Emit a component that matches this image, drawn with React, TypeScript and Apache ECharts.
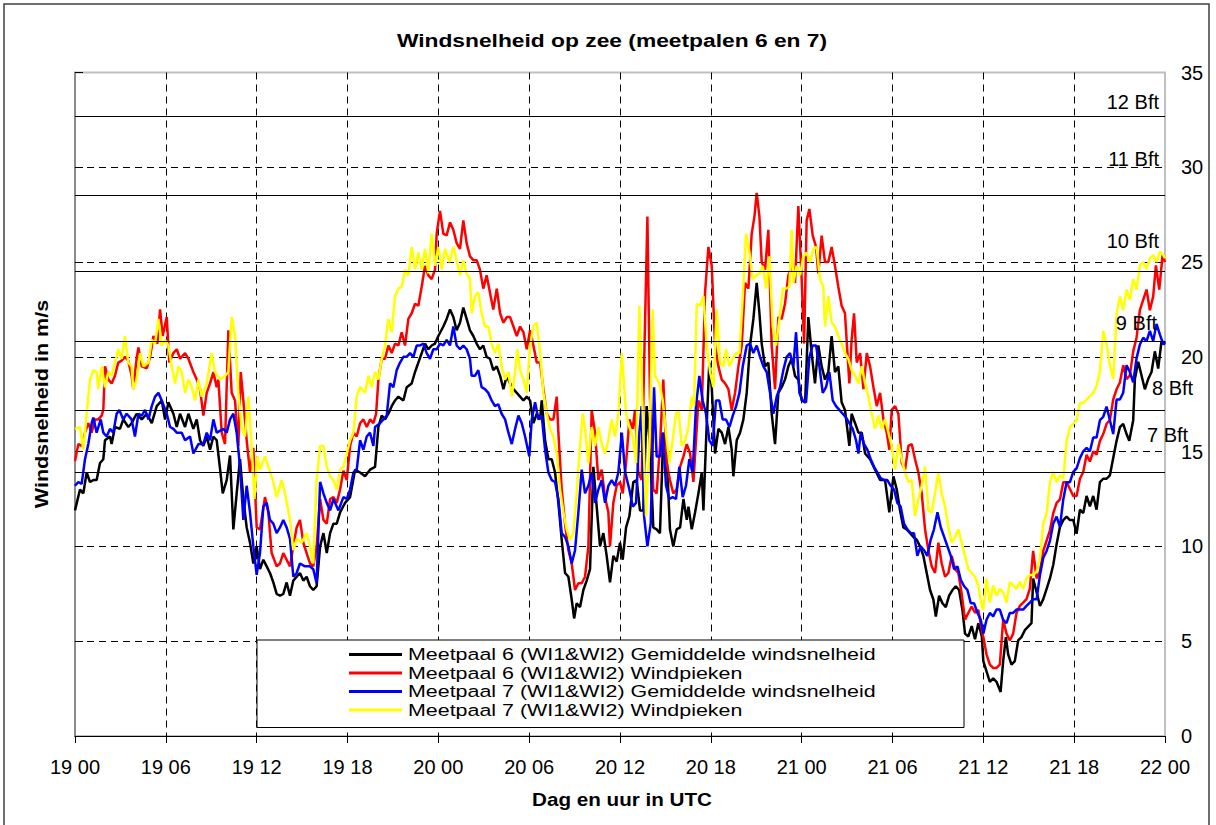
import React, { useEffect, useRef } from "react";
import * as echarts from "echarts";

const FONT = '"Liberation Sans", Arial, Helvetica, sans-serif';

const tickLabels = ["19 00", "19 06", "19 12", "19 18", "20 00", "20 06", "20 12", "20 18", "21 00", "21 06", "21 12", "21 18", "22 00"];
const bftLevels = [13.9, 17.2, 20.8, 24.5, 28.5, 32.7];
const bftNames = ["7 Bft", "8 Bft", "9 Bft", "10 Bft", "11 Bft", "12 Bft"];
const seriesNames = [
  "Meetpaal 6 (WI1&WI2) Gemiddelde windsnelheid",
  "Meetpaal 6 (WI1&WI2) Windpieken",
  "Meetpaal 7 (WI1&WI2) Gemiddelde windsnelheid",
  "Meetpaal 7 (WI1&WI2) Windpieken",
];

// [hours since 19 00 UTC, m/s]
const m6Avg: [number, number][] = [[0,11.9],[0.33,13.0],[0.55,12.8],[0.77,13.9],[0.99,13.4],[1.21,13.5],[1.43,13.5],[1.65,14.4],[1.87,14.6],[1.98,15.6],[2.31,15.8],[2.42,15.4],[2.64,16.3],[2.97,16.2],[3.19,16.7],[3.52,16.3],[3.74,16.5],[4.07,17.0],[4.41,16.7],[4.74,17.0],[5.07,16.5],[5.40,17.4],[5.73,17.7],[5.95,16.7],[6.17,17.6],[6.50,17.0],[6.72,16.3],[6.94,17.0],[7.27,16.3],[7.49,17.0],[7.82,16.2],[8.04,16.7],[8.26,15.6],[8.48,15.3],[8.70,15.8],[8.92,15.1],[9.14,15.8],[9.36,15.6],[9.58,14.1],[9.76,12.8],[10.02,13.5],[10.24,14.8],[10.46,10.9],[10.68,12.8],[10.90,14.6],[11.12,12.5],[11.34,11.0],[11.56,10.2],[11.78,9.1],[12.00,10.0],[12.22,8.8],[12.44,9.3],[12.66,8.95],[12.88,8.6],[13.10,8.1],[13.32,7.5],[13.54,7.4],[13.76,7.5],[13.98,8.1],[14.20,7.4],[14.42,8.2],[14.64,8.4],[14.86,8.6],[15.08,8.2],[15.30,8.4],[15.52,7.9],[15.74,7.7],[15.96,7.9],[16.19,10.0],[16.41,10.7],[16.63,9.65],[16.85,10.7],[17.07,11.2],[17.29,11.2],[17.51,11.8],[17.84,12.3],[18.17,12.6],[18.50,14.05],[18.83,13.9],[19.16,13.7],[19.49,14.05],[19.82,14.2],[20.04,16.3],[20.26,16.9],[20.48,16.7],[20.70,17.0],[20.92,17.4],[21.14,17.7],[21.36,17.9],[21.69,17.7],[21.91,18.4],[22.24,18.6],[22.46,19.2],[22.68,19.7],[22.90,20.2],[23.12,20.7],[23.34,20.4],[23.56,20.6],[23.78,20.7],[24.00,21.1],[24.33,21.6],[24.55,22.0],[24.77,22.5],[24.99,22.1],[25.21,21.4],[25.43,21.8],[25.65,22.6],[25.87,22.0],[26.09,21.4],[26.31,21.1],[26.53,20.7],[26.75,20.4],[26.97,20.6],[27.19,20.0],[27.41,19.9],[27.63,19.3],[27.86,19.5],[28.08,19.0],[28.30,18.3],[28.52,19.0],[28.74,18.6],[28.96,18.3],[29.18,18.1],[29.40,17.9],[29.62,17.7],[29.84,17.9],[30.06,17.7],[30.28,16.5],[30.50,17.0],[30.72,16.7],[30.83,17.7],[31.05,15.6],[31.27,14.6],[31.49,14.6],[31.71,13.9],[31.93,12.3],[32.15,10.35],[32.37,8.6],[32.59,8.4],[32.81,7.2],[32.97,6.2],[33.14,7.0],[33.36,6.8],[33.58,7.7],[33.80,8.2],[34.02,8.8],[34.24,14.2],[34.46,12.1],[34.68,10.0],[34.90,10.7],[35.12,9.5],[35.34,8.1],[35.56,9.5],[35.78,9.2],[36.00,10.2],[36.18,9.3],[36.40,11.0],[36.62,11.6],[36.88,13.4],[37.10,13.5],[37.32,11.9],[37.54,11.9],[37.76,17.4],[37.98,15.3],[38.20,11.0],[38.42,10.9],[38.64,10.7],[38.86,16.0],[39.08,14.9],[39.30,10.9],[39.52,10.0],[39.74,10.9],[39.97,11.0],[40.19,12.5],[40.41,11.4],[40.52,12.1],[40.74,10.9],[40.96,11.8],[41.18,12.8],[41.40,13.9],[41.51,11.9],[41.73,16.5],[41.90,19.7],[42.06,18.4],[42.28,14.9],[42.50,16.2],[42.72,16.0],[42.94,15.4],[43.16,16.3],[43.38,15.1],[43.49,13.7],[43.71,15.6],[43.93,16.0],[44.15,16.7],[44.37,18.1],[44.59,20.6],[44.81,22.0],[45.03,23.9],[45.21,22.3],[45.36,20.7],[45.58,19.5],[45.80,19.7],[46.02,17.0],[46.24,15.4],[46.46,18.1],[46.68,18.4],[46.90,18.8],[47.12,19.5],[47.34,19.9],[47.56,19.0],[47.78,18.8],[48.00,17.7],[48.23,17.6],[48.44,22.1],[48.66,20.2],[48.88,18.6],[49.10,20.6],[49.32,19.5],[49.54,18.8],[49.76,19.2],[49.98,21.1],[50.20,19.2],[50.42,19.5],[50.64,17.6],[50.86,17.2],[51.15,15.3],[51.30,17.0],[51.53,16.5],[51.75,16.0],[51.97,16.0],[52.19,14.9],[52.52,14.6],[52.85,14.05],[53.18,13.5],[53.51,13.5],[53.79,11.8],[54.06,13.7],[54.28,13.0],[54.50,11.9],[54.72,11.0],[54.94,10.9],[55.16,10.7],[55.38,10.5],[55.60,10.35],[55.82,10.0],[56.04,9.5],[56.26,8.6],[56.48,7.7],[56.70,7.2],[56.86,6.3],[57.08,7.4],[57.30,7.0],[57.52,6.8],[57.74,7.4],[57.96,7.7],[58.18,7.9],[58.40,7.7],[58.62,6.65],[58.79,5.4],[59.01,5.25],[59.23,5.8],[59.45,5.1],[59.67,5.95],[59.90,5.25],[60.00,3.95],[60.21,3.41],[60.43,2.86],[60.65,3.04],[60.87,2.86],[61.14,2.32],[61.31,3.95],[61.49,5.22],[61.64,4.31],[61.86,3.77],[62.08,3.95],[62.30,5.04],[62.52,5.22],[62.74,5.58],[62.96,5.77],[63.18,5.95],[63.29,8.31],[63.52,7.58],[63.74,6.86],[63.96,7.22],[64.18,7.76],[64.40,8.31],[64.62,9.03],[64.84,10.12],[65.06,11.03],[65.28,11.39],[65.50,11.57],[65.72,11.39],[65.94,11.39],[66.16,10.67],[66.38,11.94],[66.60,11.76],[66.82,12.66],[67.04,12.12],[67.26,12.66],[67.48,11.94],[67.70,13.39],[67.92,13.57],[68.14,13.57],[68.36,13.75],[68.58,14.66],[68.80,15.57],[69.02,16.29],[69.24,16.47],[69.46,15.93],[69.64,15.57],[69.90,16.66],[70.01,18.83],[70.23,19.74],[70.45,19.02],[70.67,18.29],[70.89,18.83],[71.11,19.2],[71.33,20.29],[71.55,19.38],[71.77,20.83],[72.00,20.65]];

const m6Peak: [number, number][] = [[0,14.5],[0.22,15.4],[0.44,15.3],[0.66,16.0],[0.88,16.5],[1.10,16.0],[1.32,16.7],[1.54,16.7],[1.76,16.9],[1.87,17.2],[1.98,19.5],[2.20,18.8],[2.42,18.6],[2.64,19.0],[2.86,19.7],[3.08,19.8],[3.30,20.0],[3.52,19.8],[3.74,19.0],[3.85,18.3],[4.07,19.9],[4.19,20.5],[4.41,19.5],[4.74,19.4],[4.96,20.0],[5.18,21.1],[5.44,20.7],[5.62,22.5],[5.79,21.1],[6.06,22.1],[6.23,19.7],[6.50,20.2],[6.72,20.4],[6.94,19.9],[7.27,20.2],[7.49,19.9],[7.82,19.2],[8.04,18.8],[8.26,18.3],[8.48,16.9],[8.70,18.1],[8.92,18.6],[9.14,19.2],[9.36,18.4],[9.47,18.8],[9.69,16.0],[9.91,15.4],[10.13,21.4],[10.35,18.1],[10.57,17.7],[10.79,15.3],[10.95,19.2],[11.12,17.7],[11.34,15.6],[11.56,13.9],[11.78,15.2],[12.00,11.0],[12.22,10.9],[12.55,12.6],[12.77,11.8],[12.99,9.65],[13.32,8.95],[13.54,9.1],[13.76,9.65],[13.98,9.3],[14.20,8.95],[14.42,10.0],[14.64,11.0],[14.86,11.4],[15.08,10.2],[15.30,9.65],[15.52,9.1],[15.74,8.95],[15.96,10.0],[16.19,12.5],[16.41,11.4],[16.63,11.2],[16.85,12.5],[17.07,12.6],[17.29,12.3],[17.51,13.0],[17.73,14.0],[17.95,13.5],[18.17,15.3],[18.39,16.0],[18.61,15.8],[18.83,16.5],[19.05,16.7],[19.27,16.3],[19.49,16.7],[19.71,16.5],[19.89,17.0],[20.04,18.8],[20.26,19.9],[20.48,19.9],[20.70,20.6],[20.92,20.2],[21.14,20.7],[21.36,20.6],[21.58,21.3],[21.80,20.6],[22.02,22.0],[22.24,22.3],[22.46,22.8],[22.68,22.7],[22.90,23.7],[23.12,24.8],[23.34,24.3],[23.56,24.1],[23.78,24.6],[23.89,26.5],[24.11,27.7],[24.33,26.5],[24.55,26.4],[24.77,27.1],[24.99,26.7],[25.21,26.0],[25.43,25.7],[25.65,27.2],[25.87,26.0],[26.09,25.3],[26.31,25.1],[26.53,25.1],[26.75,24.6],[26.97,23.6],[27.19,24.3],[27.41,23.4],[27.63,22.5],[27.86,23.6],[28.08,22.3],[28.30,21.8],[28.52,22.1],[28.74,22.1],[28.96,21.6],[29.18,21.1],[29.40,21.6],[29.62,21.3],[29.84,20.4],[30.06,21.4],[30.28,20.6],[30.50,19.7],[30.72,19.7],[30.94,18.3],[31.16,17.0],[31.38,16.7],[31.60,16.7],[31.82,17.9],[31.93,16.0],[32.15,13.0],[32.37,11.2],[32.59,9.8],[32.81,9.1],[33.03,7.7],[33.25,8.06],[33.47,8.06],[33.69,8.4],[33.91,10.0],[34.13,17.2],[34.35,16.0],[34.57,13.5],[34.79,14.05],[35.01,12.6],[35.23,11.8],[35.34,10.0],[35.56,12.3],[35.78,13.2],[36.00,13.4],[36.18,12.8],[36.40,14.4],[36.62,16.7],[36.84,16.2],[36.99,17.2],[37.21,13.9],[37.43,13.5],[37.59,19.5],[37.81,27.4],[37.98,17.9],[38.20,13.0],[38.42,12.8],[38.64,15.3],[38.86,18.8],[39.08,14.4],[39.30,13.5],[39.52,12.8],[39.74,13.0],[39.97,14.2],[40.19,14.75],[40.41,15.4],[40.63,14.9],[40.85,13.4],[41.02,15.6],[41.18,17.7],[41.40,17.2],[41.62,23.4],[41.84,25.8],[42.06,24.8],[42.28,20.6],[42.50,19.5],[42.72,18.8],[42.94,18.6],[43.16,18.3],[43.38,17.2],[43.60,18.1],[43.82,19.5],[44.04,20.6],[44.26,23.9],[44.48,23.6],[44.70,26.5],[44.88,27.4],[45.03,28.65],[45.21,27.4],[45.36,25.0],[45.58,24.6],[45.80,26.7],[46.02,20.6],[46.24,18.3],[46.46,22.1],[46.68,22.0],[46.90,22.8],[47.12,24.3],[47.34,24.8],[47.56,23.9],[47.78,27.95],[48.00,24.1],[48.16,20.7],[48.33,27.2],[48.51,27.8],[48.73,26.4],[48.95,25.8],[49.10,24.4],[49.32,26.4],[49.54,25.0],[49.76,25.0],[49.98,25.8],[50.20,24.8],[50.42,23.7],[50.64,22.7],[50.86,22.3],[51.15,18.6],[51.30,20.9],[51.46,22.3],[51.64,19.7],[51.86,20.2],[52.08,18.3],[52.30,20.2],[52.52,19.5],[52.74,18.4],[52.96,17.4],[53.18,18.1],[53.40,16.7],[53.62,16.0],[53.79,15.1],[53.95,17.2],[54.17,17.4],[54.39,17.0],[54.61,14.4],[54.83,14.05],[55.05,15.3],[55.27,15.4],[55.49,14.6],[55.71,13.9],[55.93,12.8],[56.15,10.9],[56.37,9.8],[56.59,8.95],[56.81,8.6],[57.03,10.2],[57.25,9.1],[57.47,8.4],[57.69,8.6],[57.91,9.5],[58.13,8.8],[58.35,8.6],[58.57,7.5],[58.79,6.13],[59.01,6.5],[59.23,6.83],[59.45,6.5],[59.67,6.65],[59.89,5.6],[60.00,5.22],[60.21,4.31],[60.43,3.77],[60.65,3.59],[60.87,3.59],[61.09,3.77],[61.31,6.13],[61.53,5.4],[61.75,5.04],[61.97,5.4],[62.19,6.49],[62.41,6.86],[62.63,7.04],[62.85,7.22],[63.07,7.76],[63.29,9.76],[63.52,8.31],[63.74,8.67],[63.96,9.76],[64.18,10.3],[64.40,10.85],[64.62,11.76],[64.84,12.3],[65.06,12.48],[65.28,13.39],[65.50,13.39],[65.72,13.03],[65.94,12.66],[66.16,12.66],[66.38,13.57],[66.60,13.93],[66.82,14.84],[67.04,14.48],[67.26,15.02],[67.48,14.84],[67.70,15.57],[67.92,15.93],[68.14,16.47],[68.36,16.66],[68.58,17.75],[68.80,18.29],[69.02,18.65],[69.24,19.56],[69.46,18.83],[69.68,19.02],[69.90,20.29],[70.12,21.01],[70.34,22.46],[70.56,23.01],[70.78,23.55],[71.00,22.46],[71.22,23.19],[71.40,24.82],[71.62,23.55],[71.84,25.37],[72.00,25.0]];

const m7Avg: [number, number][] = [[0,13.2],[0.22,13.4],[0.44,13.3],[0.66,14.6],[0.88,15.4],[1.10,16.5],[1.21,16.8],[1.43,16.0],[1.70,16.7],[1.87,16.0],[2.09,15.8],[2.31,16.2],[2.53,16.0],[2.75,17.0],[2.93,17.2],[3.19,16.7],[3.41,17.0],[3.74,16.7],[3.96,15.8],[4.19,17.0],[4.41,16.9],[4.63,17.2],[4.85,16.7],[5.07,17.4],[5.29,17.9],[5.51,18.1],[5.73,17.7],[6.06,17.0],[6.28,16.3],[6.50,16.2],[6.72,16.0],[7.05,16.0],[7.27,15.6],[7.60,15.8],[7.82,14.9],[8.15,15.4],[8.48,15.4],[8.70,16.0],[8.92,15.6],[9.14,16.7],[9.36,16.0],[9.80,16.2],[10.02,16.0],[10.24,16.7],[10.46,17.0],[10.68,16.0],[10.90,14.2],[11.12,11.4],[11.34,13.2],[11.56,11.8],[11.78,10.0],[12.00,8.5],[12.22,9.65],[12.44,12.1],[12.66,12.3],[12.88,11.4],[13.10,11.2],[13.32,10.7],[13.54,11.0],[13.76,11.4],[13.98,11.0],[14.20,10.4],[14.42,8.4],[14.64,8.6],[14.86,9.1],[15.19,8.95],[15.52,8.95],[15.74,8.8],[15.96,8.06],[16.19,13.4],[16.41,12.8],[16.63,12.3],[16.85,11.9],[17.07,12.5],[17.40,11.9],[17.73,12.6],[17.95,12.5],[18.17,13.0],[18.39,13.9],[18.61,14.05],[18.83,15.6],[19.05,15.1],[19.27,15.8],[19.49,16.0],[19.71,15.3],[19.82,16.3],[20.15,16.5],[20.37,16.7],[20.59,16.9],[20.81,18.6],[21.03,18.4],[21.25,19.3],[21.47,19.7],[21.69,20.0],[21.91,20.0],[22.13,20.2],[22.35,20.0],[22.57,20.6],[22.79,20.6],[23.01,20.7],[23.23,20.2],[23.45,19.9],[23.67,20.4],[23.89,20.4],[24.11,20.7],[24.33,20.6],[24.55,20.9],[24.77,20.6],[24.99,21.6],[25.21,20.6],[25.43,20.4],[25.65,20.6],[25.87,20.4],[26.09,19.9],[26.20,19.0],[26.42,19.0],[26.64,19.3],[26.86,18.4],[27.08,18.3],[27.30,18.1],[27.52,17.7],[27.74,17.4],[27.96,17.5],[28.18,17.0],[28.41,16.7],[28.63,16.0],[28.85,15.4],[29.07,16.2],[29.29,16.9],[29.51,16.5],[29.73,15.8],[30.01,14.75],[30.17,16.7],[30.39,17.6],[30.61,16.7],[30.83,16.9],[31.05,15.1],[31.27,13.9],[31.49,13.5],[31.71,13.4],[31.93,12.5],[32.15,10.7],[32.37,10.5],[32.59,10.0],[32.81,9.1],[33.03,9.8],[33.25,11.8],[33.47,14.05],[33.69,12.8],[33.91,13.2],[34.13,13.9],[34.35,12.3],[34.57,13.0],[34.79,13.5],[35.01,12.3],[35.23,13.2],[35.45,13.5],[35.67,13.2],[35.89,13.9],[36.12,16.0],[36.34,13.9],[36.62,13.0],[36.84,12.1],[37.06,12.3],[37.28,16.0],[37.43,17.4],[37.59,11.6],[37.81,10.0],[38.03,11.2],[38.25,18.4],[38.42,14.75],[38.64,14.75],[38.82,16.0],[39.04,13.2],[39.26,12.5],[39.48,12.6],[39.70,12.5],[39.92,14.2],[40.14,12.6],[40.36,13.2],[40.58,14.6],[40.80,13.9],[41.02,17.4],[41.24,19.0],[41.46,17.7],[41.68,17.0],[41.90,15.6],[42.12,15.3],[42.34,17.7],[42.56,17.7],[42.78,16.7],[43.00,16.7],[43.23,16.3],[43.45,16.9],[43.67,17.4],[43.89,18.1],[44.11,19.5],[44.37,20.6],[44.59,20.7],[44.81,20.2],[45.03,20.6],[45.25,20.0],[45.47,19.5],[45.69,19.2],[45.91,18.1],[46.13,17.0],[46.35,17.9],[46.57,18.4],[46.79,19.3],[47.01,20.0],[47.23,20.2],[47.45,19.5],[47.63,21.3],[47.85,18.1],[48.07,17.7],[48.29,17.6],[48.51,20.0],[48.73,20.6],[48.95,20.6],[49.17,19.5],[49.39,18.1],[49.61,18.4],[49.83,19.2],[50.05,17.7],[50.27,17.4],[50.49,17.2],[50.71,17.0],[50.93,16.8],[51.15,16.5],[51.37,16.2],[51.59,15.6],[51.75,14.9],[51.90,16.0],[52.12,15.4],[52.34,15.1],[52.56,14.6],[52.78,14.2],[53.00,13.9],[53.22,13.6],[53.44,13.5],[53.66,13.5],[53.88,13.2],[54.10,13.0],[54.32,12.3],[54.54,12.1],[54.76,11.2],[54.98,10.9],[55.20,10.7],[55.42,10.7],[55.64,9.5],[55.86,10.0],[56.08,9.8],[56.30,9.5],[56.52,10.35],[56.74,10.9],[56.97,11.8],[57.19,11.0],[57.41,10.5],[57.63,10.0],[57.85,9.5],[58.07,8.8],[58.29,8.95],[58.51,8.24],[58.73,7.9],[58.95,7.7],[59.17,7.0],[59.39,7.0],[59.61,6.5],[59.83,6.13],[60.00,5.4],[60.21,6.13],[60.43,6.49],[60.65,6.31],[60.87,6.67],[61.09,6.67],[61.31,6.13],[61.53,5.95],[61.75,6.49],[61.97,6.49],[62.19,6.67],[62.41,6.67],[62.63,6.67],[62.85,6.86],[63.07,7.04],[63.29,7.22],[63.52,7.22],[63.74,8.49],[63.96,9.4],[64.18,9.76],[64.40,10.3],[64.62,11.21],[64.84,11.57],[65.06,11.03],[65.28,12.48],[65.50,13.39],[65.72,13.39],[65.94,13.93],[66.16,14.12],[66.38,14.66],[66.60,15.02],[66.82,15.2],[67.04,15.02],[67.26,15.75],[67.48,15.75],[67.70,16.66],[67.92,16.84],[68.14,17.38],[68.36,16.66],[68.58,15.93],[68.80,17.75],[69.02,17.75],[69.24,18.11],[69.46,19.56],[69.68,19.2],[69.90,18.65],[70.12,19.92],[70.34,20.65],[70.56,21.01],[70.78,20.83],[71.00,21.37],[71.22,20.83],[71.44,21.74],[71.66,21.19],[71.89,20.65],[72.00,20.83]];

const m7Peak: [number, number][] = [[0,16.2],[0.33,16.3],[0.55,15.1],[0.77,17.0],[0.99,18.8],[1.21,19.3],[1.43,19.2],[1.54,18.3],[1.76,19.5],[1.98,18.4],[2.20,19.2],[2.42,19.0],[2.64,19.7],[2.86,20.4],[3.08,19.9],[3.30,21.1],[3.52,19.7],[3.74,19.5],[3.85,18.3],[4.07,18.8],[4.30,20.2],[4.52,19.5],[4.85,19.7],[5.07,20.9],[5.29,20.7],[5.51,22.0],[5.73,20.6],[5.95,20.9],[6.17,20.6],[6.39,19.5],[6.61,18.6],[6.83,19.5],[7.05,19.2],[7.27,18.1],[7.49,18.8],[7.71,18.4],[7.93,17.7],[8.15,18.8],[8.37,17.9],[8.70,18.6],[9.03,20.2],[9.25,19.2],[9.58,18.8],[9.91,19.0],[10.13,19.2],[10.35,22.1],[10.57,21.1],[10.79,18.1],[11.01,16.3],[11.23,15.8],[11.45,17.9],[11.67,15.3],[11.85,12.5],[12.05,14.75],[12.22,14.05],[12.55,14.75],[12.77,14.2],[13.10,13.4],[13.32,12.6],[13.65,13.5],[13.87,12.8],[14.20,11.4],[14.42,9.8],[14.64,10.4],[14.97,10.2],[15.30,10.7],[15.52,10.0],[15.74,9.1],[15.96,13.5],[16.19,15.3],[16.41,15.3],[16.63,14.2],[16.85,13.7],[17.07,13.5],[17.29,13.0],[17.51,14.05],[17.73,14.2],[17.95,14.9],[18.17,15.6],[18.39,16.0],[18.61,17.9],[18.83,18.4],[19.16,18.1],[19.38,19.0],[19.60,18.4],[19.82,19.2],[20.04,18.8],[20.26,19.9],[20.48,20.6],[20.70,22.0],[20.92,21.3],[21.14,23.2],[21.36,23.6],[21.58,23.7],[21.80,24.6],[22.02,24.3],[22.24,25.8],[22.46,24.6],[22.68,25.5],[22.90,24.6],[23.12,25.7],[23.34,24.4],[23.56,26.5],[23.78,24.8],[24.00,25.8],[24.22,24.6],[24.45,25.7],[24.73,25.0],[24.99,25.8],[25.21,25.1],[25.43,24.3],[25.65,25.1],[25.87,24.4],[26.09,24.1],[26.20,22.3],[26.42,23.2],[26.64,23.4],[26.86,22.3],[27.08,21.6],[27.30,21.6],[27.52,20.7],[27.74,20.2],[27.96,20.7],[28.18,19.5],[28.41,18.8],[28.63,19.2],[28.85,17.9],[29.07,19.2],[29.22,20.4],[29.40,19.3],[29.62,18.8],[29.84,18.1],[30.06,20.6],[30.28,21.6],[30.50,21.8],[30.72,20.2],[30.94,18.1],[31.16,17.0],[31.38,16.2],[31.60,15.8],[31.82,14.9],[32.04,13.0],[32.26,11.8],[32.48,10.9],[32.70,10.35],[32.92,10.7],[33.14,12.8],[33.36,15.3],[33.54,17.0],[33.69,16.2],[33.91,14.4],[34.13,16.3],[34.35,15.3],[34.57,16.3],[34.79,15.4],[35.01,14.9],[35.23,15.6],[35.45,16.7],[35.67,15.8],[35.89,17.0],[36.12,20.2],[36.40,17.0],[36.62,16.3],[36.84,15.8],[37.06,14.4],[37.28,22.7],[37.50,17.0],[37.72,11.6],[37.94,15.3],[38.16,22.5],[38.31,19.0],[38.60,18.6],[38.82,17.7],[39.04,16.0],[39.26,14.4],[39.48,15.6],[39.70,17.0],[39.86,17.2],[40.08,15.3],[40.30,15.6],[40.52,16.3],[40.74,17.9],[40.89,17.4],[41.07,22.8],[41.29,22.7],[41.51,23.2],[41.73,20.6],[41.95,19.2],[42.17,18.4],[42.39,22.5],[42.61,19.7],[42.83,19.5],[43.01,20.4],[43.23,19.5],[43.45,19.9],[43.67,20.2],[43.89,20.2],[44.11,23.2],[44.33,26.5],[44.55,25.5],[44.77,24.1],[44.99,24.3],[45.21,24.4],[45.43,24.8],[45.65,23.6],[45.87,25.3],[46.09,21.6],[46.31,20.6],[46.53,22.0],[46.75,23.6],[46.97,23.6],[47.19,23.7],[47.34,26.7],[47.45,23.9],[47.67,24.8],[47.89,24.3],[48.11,25.3],[48.33,25.5],[48.55,25.0],[48.77,25.7],[48.99,25.8],[49.21,24.1],[49.43,23.7],[49.54,21.6],[49.76,23.2],[49.98,21.8],[50.20,21.6],[50.42,21.1],[50.64,20.7],[50.86,20.2],[51.08,19.9],[51.30,19.3],[51.53,19.0],[51.75,18.6],[51.97,19.5],[52.19,18.6],[52.41,17.9],[52.63,17.0],[52.85,16.2],[53.07,16.9],[53.29,16.2],[53.51,16.7],[53.73,16.0],[53.95,15.3],[54.17,14.05],[54.39,15.4],[54.61,14.6],[54.83,13.9],[55.05,13.4],[55.27,13.5],[55.49,11.6],[55.71,12.5],[55.93,13.2],[56.15,14.2],[56.37,11.9],[56.59,11.8],[56.81,12.8],[57.03,13.9],[57.25,12.8],[57.47,12.1],[57.69,11.0],[57.91,10.2],[58.13,10.5],[58.35,10.9],[58.57,10.2],[58.79,9.5],[59.01,8.8],[59.23,8.6],[59.45,8.4],[59.67,7.9],[59.90,6.83],[60.00,6.67],[60.21,8.31],[60.43,7.04],[60.65,7.94],[60.87,7.4],[61.09,7.76],[61.31,7.58],[61.53,7.04],[61.75,8.13],[61.97,7.94],[62.19,7.76],[62.41,8.13],[62.63,7.76],[62.85,8.31],[63.07,8.49],[63.29,8.49],[63.52,8.67],[63.74,9.4],[63.96,11.21],[64.18,11.76],[64.40,13.39],[64.62,13.93],[64.84,13.39],[65.06,13.75],[65.28,13.57],[65.50,15.57],[65.72,16.29],[65.94,16.47],[66.16,16.66],[66.38,17.56],[66.60,17.56],[66.82,17.75],[67.04,17.93],[67.26,18.11],[67.48,18.47],[67.70,19.2],[67.92,21.37],[68.14,20.65],[68.36,19.56],[68.58,18.83],[68.80,22.28],[69.02,23.19],[69.24,22.46],[69.46,23.55],[69.68,23.01],[69.90,24.1],[70.12,23.55],[70.34,24.82],[70.56,25.0],[70.78,24.64],[71.00,25.19],[71.22,25.37],[71.44,25.0],[71.66,25.55],[71.89,25.37],[72.00,25.2]];

const seriesData = [m6Avg, m6Peak, m7Avg, m7Peak];
const seriesColors = ["#000000", "#ff0000", "#0000ff", "#ffff00"];

// Beaufort label placement (pixel layout): [anchor x, centre y, align]
const bftLabelPos: [number, number, string][] = [
  [1147, 435, "left"],
  [1152, 388, "left"],
  [1157, 323, "right"],
  [1159, 241, "right"],
  [1159, 159, "right"],
  [1159, 102, "right"],
];

// Legend box layout (pixels)
const LEG = { x: 257, y: 640, w: 707, h: 87.5, lineX1: 349, lineX2: 402, textX: 408, row0: 654.5, pitch: 18.5 };

export default function App() {
  const ref = useRef<HTMLDivElement>(null);

  useEffect(() => {
    document.body.style.margin = "0";
    const chart = echarts.init(ref.current as HTMLDivElement, undefined, { renderer: "svg" });

    const dashed = { color: "#000", width: 1, type: [7, 5] as number[] };

    const series: any[] = seriesData.map((d, i) => ({
      type: "line",
      name: seriesNames[i],
      data: d,
      showSymbol: false,
      symbol: "none",
      lineStyle: { color: seriesColors[i], width: 2.5 },
      itemStyle: { color: seriesColors[i] },
      emphasis: { disabled: true },
      silent: true,
      animation: false,
    }));
    series[0].markLine = {
      silent: true,
      symbol: "none",
      animation: false,
      label: { show: false },
      emphasis: { disabled: true },
      lineStyle: { color: "#000", type: "solid", width: 1 },
      data: bftLevels.map((v) => ({ yAxis: v })),
    };
    series[0].z = 1;

    const centred = { textAlign: "center", textVerticalAlign: "middle", align: "center", verticalAlign: "middle" };

    const legendEls: any[] = [
      {
        type: "rect",
        z: 50,
        silent: true,
        shape: { x: LEG.x, y: LEG.y, width: LEG.w, height: LEG.h },
        style: { fill: "#ffffff", stroke: "#000", lineWidth: 1 },
      },
    ];
    seriesNames.forEach((n, i) => {
      const cy = LEG.row0 + i * LEG.pitch;
      legendEls.push({
        type: "line",
        z: 51,
        silent: true,
        shape: { x1: LEG.lineX1, y1: cy, x2: LEG.lineX2, y2: cy },
        style: { stroke: seriesColors[i], lineWidth: 3 },
      });
      legendEls.push({
        type: "text",
        z: 51,
        silent: true,
        x: LEG.textX,
        y: cy,
        scaleX: 1.26,
        style: {
          text: n,
          font: `17px ${FONT}`,
          fill: "#000",
          textAlign: "left",
          align: "left",
          textVerticalAlign: "middle",
          verticalAlign: "middle",
        },
      });
    });

    const graphic: any[] = [
      {
        type: "rect",
        shape: { x: 4, y: 4, width: 1205, height: 850 },
        style: { fill: "none", stroke: "#404040", lineWidth: 1.5 },
        silent: true,
      },
      {
        type: "text",
        x: 612,
        y: 40,
        scaleX: 1.2,
        z: 100,
        style: { text: "Windsnelheid op zee (meetpalen 6 en 7)", font: `bold 19px ${FONT}`, fill: "#000", ...centred },
      },
      {
        type: "text",
        x: 42,
        y: 404,
        rotation: Math.PI / 2,
        scaleX: 1.2,
        z: 100,
        style: { text: "Windsnelheid in m/s", font: `bold 18px ${FONT}`, fill: "#000", ...centred },
      },
      {
        type: "text",
        x: 622,
        y: 800,
        scaleX: 1.18,
        z: 100,
        style: { text: "Dag en uur in UTC", font: `bold 17.5px ${FONT}`, fill: "#000", ...centred },
      },
      ...bftNames.map((n, i) => ({
        type: "text",
        x: bftLabelPos[i][0],
        y: bftLabelPos[i][1],
        z: 100,
        style: {
          text: n,
          font: `20px ${FONT}`,
          fill: "#000",
          textAlign: bftLabelPos[i][2],
          textVerticalAlign: "middle",
          align: bftLabelPos[i][2],
          verticalAlign: "middle",
        },
      })),
      ...legendEls,
    ];

    chart.setOption({
      animation: false,
      backgroundColor: "#ffffff",
      textStyle: { fontFamily: FONT },
      grid: {
        left: 75,
        right: 51,
        top: 72.5,
        bottom: 89,
        show: true,
        borderColor: "#c0c0c0",
        borderWidth: 2,
        backgroundColor: "transparent",
        containLabel: false,
      },
      xAxis: {
        type: "value",
        min: 0,
        max: 72,
        interval: 6,
        axisLine: { show: true, onZero: false, lineStyle: { color: "#000", width: 1 } },
        axisTick: { show: true, inside: false, length: 7, lineStyle: { color: "#000" } },
        axisLabel: {
          show: true,
          margin: 21,
          fontSize: 20,
          color: "#000",
          fontFamily: FONT,
          showMinLabel: true,
          showMaxLabel: true,
          formatter: (v: number) => tickLabels[Math.round(v / 6)] ?? "",
        },
        splitLine: { show: true, showMinLine: false, showMaxLine: false, lineStyle: dashed },
      },
      yAxis: {
        type: "value",
        position: "right",
        min: 0,
        max: 35,
        interval: 5,
        axisLine: { show: true, lineStyle: { color: "#7a7a7a", width: 1.5 } },
        axisTick: { show: true, inside: false, length: 8, lineStyle: { color: "#000" } },
        axisLabel: { show: true, margin: 16, fontSize: 20, color: "#000", fontFamily: FONT },
        splitLine: { show: true, showMinLine: false, showMaxLine: false, lineStyle: dashed },
      },
      series,
      graphic,
    });

    return () => chart.dispose();
  }, []);

  return (
    <div
      ref={ref}
      style={{ position: "absolute", left: 0, top: 0, width: 1216, height: 825, background: "#fff" }}
    />
  );
}
